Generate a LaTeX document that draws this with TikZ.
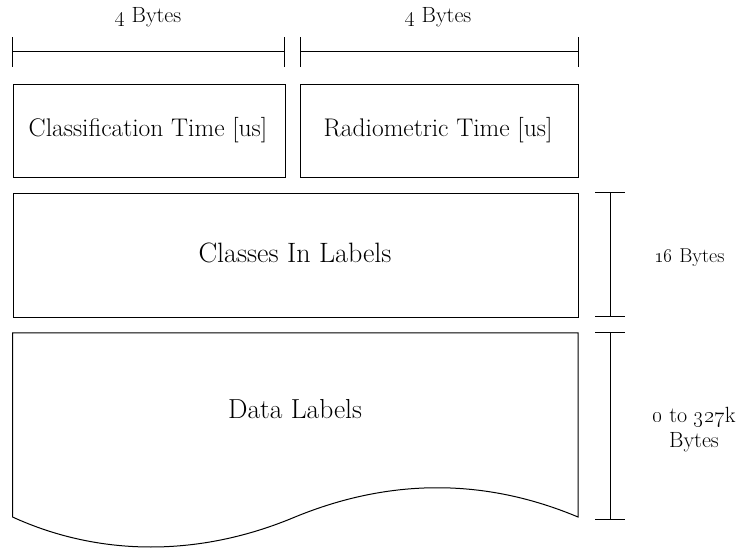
\RequirePackage{fix-cm}
\documentclass[tikz,border=0pt]{standalone}
\begin{document}
\begin{tikzpicture}[x=1pt,y=-1pt,
  field/.style={draw,line width=1pt,inner sep=0pt,anchor=north west},
  dimline/.style={line width=1pt},
  txt/.style={anchor=base,inner sep=0pt},
  dimtxt/.style={txt,font=\fontsize{22}{26}\selectfont},
  boxtxt/.style={txt,font=\fontsize{25.5}{30}\selectfont},
  bigtxt/.style={txt,font=\fontsize{28}{33}\selectfont}]
\useasboundingbox (0,0) rectangle (745,548);

% width markers above the time fields
\coordinate (w1a) at (12.5,52);  \coordinate (w1b) at (284.5,52);
\coordinate (w2a) at (300,52);   \coordinate (w2b) at (578,52);
\draw[dimline] (w1a) -- (w1b);
\draw[dimline] (w2a) -- (w2b);
\foreach \c in {w1a,w1b,w2a,w2b}
  \draw[dimline] ([yshift=-15pt]\c) -- ([yshift=15pt]\c);
\node[dimtxt] (w1t) at (148,23) {\oldstylenums{4} Bytes};
\node[dimtxt] (w2t) at (438,23) {\oldstylenums{4} Bytes};

% header fields
\node[field,minimum width=272.5pt,minimum height=93pt] (ct) at (12.5,84) {};
\node[boxtxt] (ctt) at (148,137) {Classification Time [us]};
\node[field,minimum width=278pt,minimum height=93pt] (rt) at (300,84) {};
\node[boxtxt] (rtt) at (438,137) {Radiometric Time [us]};

% class list field
\node[field,minimum width=565.5pt,minimum height=124pt] (cl) at (12.5,193) {};
\node[bigtxt] (clt) at (295,263) {Classes In Labels};

% data field with torn bottom edge
\coordinate (dtl) at (12.5,333);
\coordinate (dtr) at (578,333);
\coordinate (dbl) at (12.5,517);
\coordinate (dbm) at (295,517);
\coordinate (dbr) at (578,517);
\draw[line width=1pt,line join=miter]
  (dbl) -- (dtl) -- (dtr) -- (dbr)
  .. controls (485,478) and (390,478) .. (dbm)
  .. controls (200,557) and (100,557) .. (dbl);
\node[bigtxt,font=\fontsize{27.5}{33}\selectfont] (dl) at (295,418) {Data Labels};

% height markers at the right
\coordinate (h1a) at (610,193); \coordinate (h1b) at (610,317);
\coordinate (h2a) at (610,333); \coordinate (h2b) at (610,519);
\draw[dimline] (h1a) -- (h1b);
\draw[dimline] (h2a) -- (h2b);
\foreach \c in {h1a,h1b,h2a,h2b}
  \draw[dimline] ([xshift=-15pt]\c) -- ([xshift=15pt]\c);
\node[txt,font=\fontsize{20}{24}\selectfont] (h1t) at (689.5,263) {\oldstylenums{16} Bytes};
\node[dimtxt] (h2t) at (694,422) {\oldstylenums{0} to \oldstylenums{327}k};
\node[dimtxt] (h2u) at (694,447) {Bytes};
\end{tikzpicture}
\end{document}
